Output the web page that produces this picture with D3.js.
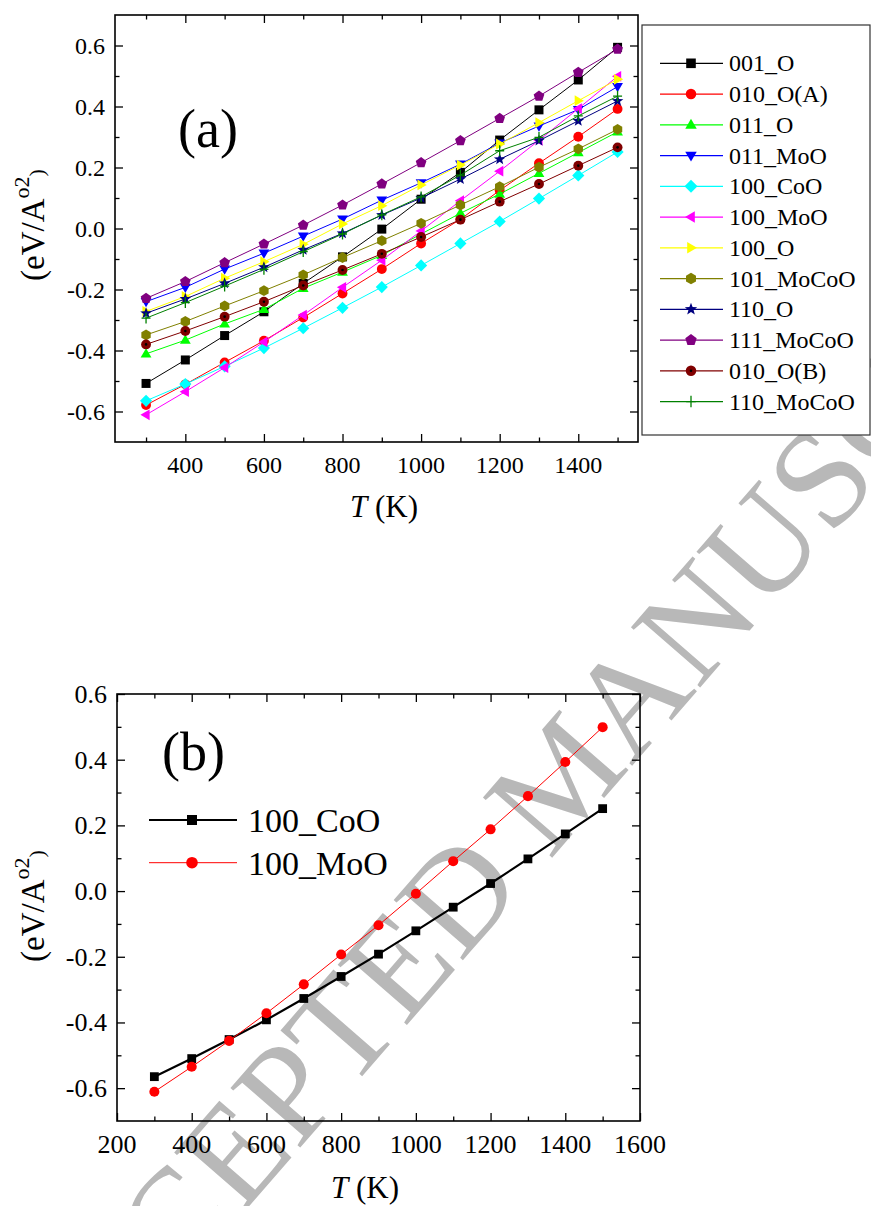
<!DOCTYPE html>
<html>
<head>
<meta charset="utf-8">
<script src="https://cdn.jsdelivr.net/npm/d3@7"></script>
<style>
  body { margin: 0; background: #fff; }
  svg { display: block; }
  text { font-family: "Liberation Serif", "Times New Roman", serif; fill: #000; }
</style>
</head>
<body>
<svg id="chart" width="871" height="1206"></svg>
<script>
// Temperatures (K)
const temps = [300, 400, 500, 600, 700, 800, 900, 1000, 1100, 1200, 1300, 1400, 1500];

// Surface energy terms (eV/A^2) for each termination
const v001_O      = [-0.508, -0.431, -0.351, -0.273, -0.180, -0.093, -0.002, 0.096, 0.184, 0.290, 0.389, 0.487, 0.594];
const v010_OA     = [-0.579, -0.511, -0.439, -0.368, -0.292, -0.213, -0.133, -0.049, 0.030, 0.125, 0.214, 0.301, 0.392];
const v011_O      = [-0.411, -0.366, -0.313, -0.265, -0.196, -0.143, -0.088, -0.018, 0.050, 0.113, 0.181, 0.249, 0.317];
const v011_MoO    = [-0.240, -0.193, -0.133, -0.081, -0.025, 0.031, 0.093, 0.150, 0.211, 0.280, 0.336, 0.390, 0.465];
const v100_CoO    = [-0.565, -0.510, -0.452, -0.392, -0.327, -0.260, -0.192, -0.121, -0.049, 0.023, 0.098, 0.174, 0.251];
const v100_MoO    = [-0.611, -0.535, -0.456, -0.372, -0.284, -0.193, -0.104, -0.008, 0.091, 0.188, 0.289, 0.393, 0.499];
const v100_O      = [-0.272, -0.223, -0.163, -0.109, -0.052, 0.015, 0.075, 0.143, 0.208, 0.277, 0.347, 0.419, 0.489];
const v101_MoCoO  = [-0.349, -0.305, -0.254, -0.204, -0.152, -0.095, -0.040, 0.017, 0.077, 0.137, 0.201, 0.261, 0.325];
const v110_O      = [-0.278, -0.231, -0.180, -0.127, -0.070, -0.016, 0.044, 0.100, 0.162, 0.227, 0.288, 0.353, 0.418];
const v111_MoCoO  = [-0.229, -0.174, -0.112, -0.051, 0.011, 0.077, 0.146, 0.216, 0.288, 0.361, 0.434, 0.512, 0.588];
const v010_OB     = [-0.380, -0.336, -0.289, -0.240, -0.187, -0.136, -0.083, -0.028, 0.029, 0.088, 0.146, 0.206, 0.266];
const v110_MoCoO  = [-0.294, -0.243, -0.189, -0.134, -0.076, -0.018, 0.045, 0.104, 0.175, 0.255, 0.299, 0.369, 0.434];

// Axis ticks
const xTicksA = [400, 600, 800, 1000, 1200, 1400];
const xMinorA = [300, 500, 700, 900, 1100, 1300, 1500];
const xTicksB = [200, 400, 600, 800, 1000, 1200, 1400, 1600];
const xMinorB = [300, 500, 700, 900, 1100, 1300, 1500];
const yTicks  = [-0.6, -0.4, -0.2, 0.0, 0.2, 0.4, 0.6];
const yMinor  = [-0.5, -0.3, -0.1, 0.1, 0.3, 0.5];

// Series appearance for panel (a)
const seriesA = [
  { name: "001_O",      values: v001_O,     color: "#000000", marker: "square" },
  { name: "010_O(A)",   values: v010_OA,    color: "#ff0000", marker: "circle" },
  { name: "011_O",      values: v011_O,     color: "#00ff00", marker: "up" },
  { name: "011_MoO",    values: v011_MoO,   color: "#0000ff", marker: "down" },
  { name: "100_CoO",    values: v100_CoO,   color: "#00ffff", marker: "diamond" },
  { name: "100_MoO",    values: v100_MoO,   color: "#ff00ff", marker: "left" },
  { name: "100_O",      values: v100_O,     color: "#ffff00", marker: "right" },
  { name: "101_MoCoO",  values: v101_MoCoO, color: "#808000", marker: "hexagon" },
  { name: "110_O",      values: v110_O,     color: "#000080", marker: "star" },
  { name: "111_MoCoO",  values: v111_MoCoO, color: "#800080", marker: "pentagon" },
  { name: "010_O(B)",   values: v010_OB,    color: "#800000", marker: "dotcircle" },
  { name: "110_MoCoO",  values: v110_MoCoO, color: "#008000", marker: "plus" }
];

// Series for panel (b)
const seriesB = [
  { name: "100_CoO", values: v100_CoO, color: "#000000", marker: "square", width: 2.2 },
  { name: "100_MoO", values: v100_MoO, color: "#ff0000", marker: "circle", width: 1 }
];

const svg = d3.select("#chart");

// Polygon helpers for marker outlines
function poly(pts) { return "M" + pts.map(p => p[0].toFixed(2) + "," + p[1].toFixed(2)).join("L") + "Z"; }
function regular(n, r, rot) {
  const pts = [];
  for (let i = 0; i < n; i++) {
    const a = rot + i * 2 * Math.PI / n;
    pts.push([r * Math.cos(a), r * Math.sin(a)]);
  }
  return poly(pts);
}
function starPath(r) {
  const pts = [];
  for (let i = 0; i < 10; i++) {
    const rr = i % 2 === 0 ? r : r * 0.42;
    const a = -Math.PI / 2 + i * Math.PI / 5;
    pts.push([rr * Math.cos(a), rr * Math.sin(a)]);
  }
  return poly(pts);
}
function markerPath(type, r) {
  switch (type) {
    case "square":   return poly([[-r, -r], [r, -r], [r, r], [-r, r]]);
    case "circle":
    case "dotcircle": return d3.symbol(d3.symbolCircle, Math.PI * r * r * 1.2)();
    case "up":       return poly([[0, -r * 1.25], [r * 1.2, r * 0.8], [-r * 1.2, r * 0.8]]);
    case "down":     return poly([[0, r * 1.25], [r * 1.2, -r * 0.8], [-r * 1.2, -r * 0.8]]);
    case "left":     return poly([[-r * 1.25, 0], [r * 0.8, -r * 1.2], [r * 0.8, r * 1.2]]);
    case "right":    return poly([[r * 1.25, 0], [-r * 0.8, -r * 1.2], [-r * 0.8, r * 1.2]]);
    case "diamond":  return poly([[0, -r * 1.35], [r * 1.35, 0], [0, r * 1.35], [-r * 1.35, 0]]);
    case "hexagon":  return regular(6, r * 1.2, -Math.PI / 2);
    case "pentagon": return regular(5, r * 1.25, -Math.PI / 2);
    case "star":     return starPath(r * 1.35);
    case "plus":     return `M${-r},0H${r}M0,${-r * 1.2}V${r * 1.2}`;
  }
}
function drawMarker(g, type, color, r) {
  if (type === "plus") {
    g.append("path").attr("d", markerPath(type, r)).attr("fill", "none")
      .attr("stroke", color).attr("stroke-width", 1.3);
    return;
  }
  g.append("path").attr("d", markerPath(type, r)).attr("fill", color);
  if (type === "dotcircle") g.append("circle").attr("r", 1.3).attr("fill", "#000");
}

// Watermark
svg.append("text")
  .attr("transform", "translate(52,1433) rotate(-49)")
  .attr("font-size", 140)
  .style("fill", "#b8b8b8")
  .text("ACCEPTED MANUSCRIPT");

// Generic panel builder: inward ticks on all four sides, labels bottom/left
function panel(opts) {
  const { left, top, right, bottom, xDomain, yDomain, xTicks, xMinor, tickFont, labelGap } = opts;
  const x = d3.scaleLinear().domain(xDomain).range([left, right]);
  const y = d3.scaleLinear().domain(yDomain).range([bottom, top]);
  const g = svg.append("g");
  const inY = v => v >= yDomain[0] - 1e-9 && v <= yDomain[1] + 1e-9;
  const yMaj = yTicks.filter(inY), yMin = yMinor.filter(inY);

  const addTicks = (axis, tr) => {
    const a = g.append("g").attr("transform", tr).call(axis.tickFormat(""));
    a.select(".domain").remove();
    a.selectAll("text").remove();
    a.selectAll("line").attr("stroke", "#000").attr("stroke-width", 1.3);
  };
  addTicks(d3.axisBottom(x).tickValues(xTicks).tickSize(-8), `translate(0,${bottom})`);
  addTicks(d3.axisBottom(x).tickValues(xMinor).tickSize(-4.5), `translate(0,${bottom})`);
  addTicks(d3.axisTop(x).tickValues(xTicks).tickSize(-8), `translate(0,${top})`);
  addTicks(d3.axisTop(x).tickValues(xMinor).tickSize(-4.5), `translate(0,${top})`);
  addTicks(d3.axisLeft(y).tickValues(yMaj).tickSize(-8), `translate(${left},0)`);
  addTicks(d3.axisLeft(y).tickValues(yMin).tickSize(-4.5), `translate(${left},0)`);
  addTicks(d3.axisRight(y).tickValues(yMaj).tickSize(-8), `translate(${right},0)`);
  addTicks(d3.axisRight(y).tickValues(yMin).tickSize(-4.5), `translate(${right},0)`);

  // Tick labels
  g.append("g").selectAll("text").data(xTicks).join("text")
    .attr("x", d => x(d)).attr("y", bottom + labelGap)
    .attr("text-anchor", "middle").attr("font-size", tickFont)
    .text(d => String(d));
  g.append("g").selectAll("text").data(yMaj).join("text")
    .attr("x", left - 10).attr("y", d => y(d) + tickFont * 0.34)
    .attr("text-anchor", "end").attr("font-size", tickFont)
    .text(d => d.toFixed(1));

  g.append("rect").attr("x", left).attr("y", top)
    .attr("width", right - left).attr("height", bottom - top)
    .attr("fill", "none").attr("stroke", "#000").attr("stroke-width", 1.6);
  return { x, y, g };
}

function ylabel(cx, cy) {
  const t = svg.append("text")
    .attr("transform", `translate(${cx},${cy}) rotate(-90)`)
    .attr("text-anchor", "middle")
    .attr("font-size", 33);
  t.append("tspan").text("(eV/A");
  t.append("tspan").attr("font-size", 22).attr("dy", -15).text("o2");
  t.append("tspan").attr("font-size", 22).attr("dy", 15).text(")");
}
function xlabel(cx, by) {
  const t = svg.append("text").attr("x", cx).attr("y", by)
    .attr("text-anchor", "middle").attr("font-size", 31);
  t.append("tspan").attr("font-style", "italic").text("T");
  t.append("tspan").text(" (K)");
}

function drawSeries(p, s, r, lw) {
  const pts = temps.map((t, i) => [t, s.values[i]]);
  const line = d3.line().x(d => p.x(d[0])).y(d => p.y(d[1]));
  p.g.append("path").datum(pts).attr("d", line)
    .attr("fill", "none").attr("stroke", s.color).attr("stroke-width", lw);
  pts.forEach(d => {
    const m = p.g.append("g").attr("transform", `translate(${p.x(d[0])},${p.y(d[1])})`);
    drawMarker(m, s.marker, s.color, r);
  });
}

// ---------- Panel (a) ----------
const pa = panel({
  left: 115, top: 15, right: 638, bottom: 442,
  xDomain: [221, 1552], yDomain: [-0.7, 0.7],
  xTicks: xTicksA, xMinor: xMinorA, tickFont: 24, labelGap: 31
});
seriesA.forEach(s => drawSeries(pa, s, 4.5, 1));

svg.append("text").attr("x", 178).attr("y", 147).attr("font-size", 54).text("(a)");
ylabel(44, 225);
xlabel(384, 517);

// Legend (a)
const legA = svg.append("g");
legA.append("rect").attr("x", 642).attr("y", 25).attr("width", 228).attr("height", 410)
  .attr("fill", "#fff").attr("stroke", "#333").attr("stroke-width", 1.2);
seriesA.forEach((s, i) => {
  const yy = 63.3 + i * 30.75;
  const row = legA.append("g");
  row.append("line").attr("x1", 660).attr("x2", 723).attr("y1", yy).attr("y2", yy)
    .attr("stroke", s.color).attr("stroke-width", 1.2);
  const m = row.append("g").attr("transform", `translate(691,${yy})`);
  drawMarker(m, s.marker, s.color, 4.8);
  row.append("text").attr("x", 729).attr("y", yy + 8).attr("font-size", 24).text(s.name);
});

// ---------- Panel (b) ----------
const pb = panel({
  left: 117, top: 694, right: 640, bottom: 1121,
  xDomain: [200, 1600], yDomain: [-0.7, 0.6],
  xTicks: xTicksB, xMinor: xMinorB, tickFont: 26, labelGap: 32
});
seriesB.forEach(s => drawSeries(pb, s, s.marker === "square" ? 4.4 : 4.6, s.width));

svg.append("text").attr("x", 162).attr("y", 770).attr("font-size", 54).text("(b)");
ylabel(44, 906);
xlabel(365, 1198);

// Legend (b)
seriesB.forEach((s, i) => {
  const yy = 820 + i * 42.7;
  svg.append("line").attr("x1", 149).attr("x2", 237).attr("y1", yy).attr("y2", yy)
    .attr("stroke", s.color).attr("stroke-width", s.width);
  const m = svg.append("g").attr("transform", `translate(192,${yy})`);
  drawMarker(m, s.marker, s.color, s.marker === "square" ? 5 : 5.3);
  svg.append("text").attr("x", 248).attr("y", yy + 12).attr("font-size", 34).text(s.name);
});
</script>
</body>
</html>
